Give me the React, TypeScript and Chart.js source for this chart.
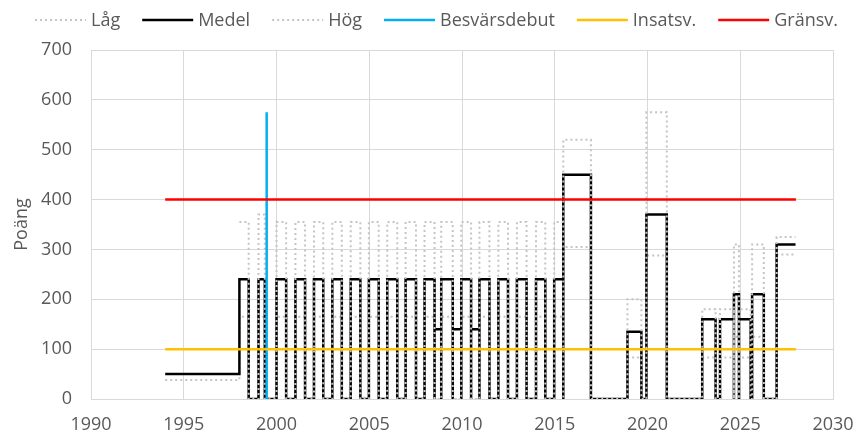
import React, { useEffect, useRef } from "react";
import { Chart, registerables } from "chart.js";

Chart.register(...registerables);

// ---- data ----
const baseStart = 1994;
const baseMedel = 50;
const baseLag = 38;

const segStart = [1998.0, 1999.03, 2000.0, 2001.02, 2002.02, 2003.01, 2004.0, 2004.98, 2005.97, 2006.96, 2007.98, 2008.52, 2008.88, 2009.5, 2009.96, 2010.49, 2010.94, 2011.96, 2012.96, 2013.99, 2014.97, 2015.46, 2018.92, 2019.94, 2022.95, 2023.91, 2024.66, 2024.93, 2025.64, 2026.96];
const segEnd = [1998.5, 1999.37, 2000.52, 2001.54, 2002.52, 2003.52, 2004.52, 2005.51, 2006.51, 2007.52, 2008.52, 2008.88, 2009.5, 2009.96, 2010.49, 2010.94, 2011.48, 2012.48, 2013.48, 2014.49, 2015.46, 2016.95, 2019.67, 2021.04, 2023.67, 2024.66, 2024.93, 2025.56, 2026.27, 2027.98];
const medelVals = [240, 240, 240, 240, 240, 240, 240, 240, 240, 240, 240, 140, 240, 140, 240, 140, 240, 240, 240, 240, 240, 450, 135, 370, 160, 160, 210, 160, 210, 310];
const lagVals: (number | null)[] = [165, 165, 165, 165, 165, 165, 165, 165, 165, 165, 165, null, 165, null, 165, null, 165, 165, 165, 165, 165, 305, 83, 288, 83, 83, 125, 83, 125, 290];
const hogVals: (number | null)[] = [355, 370, 355, 355, 355, 355, 355, 355, 355, 355, 355, null, 355, null, 355, null, 355, 355, 355, 355, 355, 520, 200, 575, 180, 180, 310, 180, 310, 325];

const debutYear = 1999.47;
const debutTop = 575;
const refStart = 1994;
const refEnd = 2028;
const insatsValue = 100;
const gransValue = 400;

const xTicksMin = 1990;
const xTicksMax = 2030;
const yMax = 700;

const TEXT = "#595959";
const GRID = "#D9D9D9";
const FONT = '"Open Sans", "Noto Sans", sans-serif';

type Pt = { x: number; y: number };

function buildSteps(base: number | null, vals: (number | null)[]): Pt[] {
  const pts: Pt[] = [];
  if (base !== null) pts.push({ x: baseStart, y: base });
  let lastIdx = -1;
  vals.forEach((v, i) => {
    if (v !== null) lastIdx = i;
  });
  vals.forEach((v, i) => {
    if (v === null) return;
    pts.push({ x: segStart[i], y: v });
    pts.push({ x: segEnd[i], y: i === lastIdx ? v : 0 });
  });
  return pts;
}

const legendPlugin = {
  id: "customLegend",
  afterDraw(chart: any) {
    const ctx = chart.ctx as CanvasRenderingContext2D;
    const ds = chart.data.datasets as any[];
    ctx.save();
    ctx.font = `18px ${FONT}`;
    const sample = 51;
    const gapText = 5;
    const gapItem = 22;
    const widths = ds.map((d) => ctx.measureText(d.label).width);
    const total = widths.reduce((a, w) => a + sample + gapText + w, 0) + gapItem * (ds.length - 1);
    let x = 436.5 - total / 2;
    const y = 20;
    ds.forEach((d, i) => {
      ctx.beginPath();
      ctx.setLineDash(d.borderDash || []);
      ctx.strokeStyle = d.borderColor;
      ctx.lineWidth = d.borderWidth;
      ctx.moveTo(x, y);
      ctx.lineTo(x + sample, y);
      ctx.stroke();
      ctx.setLineDash([]);
      ctx.fillStyle = TEXT;
      ctx.textBaseline = "middle";
      ctx.textAlign = "left";
      ctx.fillText(d.label, x + sample + gapText, y + 1);
      x += sample + gapText + widths[i] + gapItem;
    });
    ctx.restore();
  },
};

export default function App() {
  const ref = useRef<HTMLCanvasElement | null>(null);
  useEffect(() => {
    if (!ref.current) return;
    Chart.defaults.font.family = FONT;
    const dotted = { borderColor: "#C4C4C4", borderWidth: 2, borderDash: [2, 3] };
    const chart = new Chart(ref.current, {
      type: "line",
      data: {
        datasets: [
          { label: "Låg", data: buildSteps(baseLag, lagVals), stepped: "before", ...dotted, order: 5 },
          { label: "Medel", data: buildSteps(baseMedel, medelVals), stepped: "before", borderColor: "#000000", borderWidth: 2.5, order: 4 },
          { label: "Hög", data: buildSteps(null, hogVals), stepped: "before", ...dotted, order: 3 },
          { label: "Besvärsdebut", data: [{ x: debutYear, y: 0 }, { x: debutYear, y: debutTop }], borderColor: "#00B0F0", borderWidth: 2.5, order: 2 },
          { label: "Insatsv.", data: [{ x: refStart, y: insatsValue }, { x: refEnd, y: insatsValue }], borderColor: "#FFC000", borderWidth: 2.5, order: 1 },
          { label: "Gränsv.", data: [{ x: refStart, y: gransValue }, { x: refEnd, y: gransValue }], borderColor: "#FF0000", borderWidth: 2.5, order: 0 },
        ] as any,
      },
      options: {
        animation: false,
        responsive: false,
        layout: { padding: { top: 50, right: 21, bottom: 0, left: 0 } },
        elements: { point: { radius: 0, hoverRadius: 0 }, line: { tension: 0 } },
        plugins: { legend: { display: false }, tooltip: { enabled: false } },
        scales: {
          x: {
            type: "linear",
            min: xTicksMin,
            max: xTicksMax,
            ticks: { stepSize: 5, color: TEXT, font: { size: 18 }, padding: 15, callback: (v: any) => String(v) },
            grid: { color: GRID, drawTicks: false },
            border: { color: GRID },
            afterFit: (s: any) => {
              s.height = 40;
              s.paddingLeft = 0;
              s.paddingRight = 0;
            },
          },
          y: {
            min: 0,
            max: yMax,
            ticks: { stepSize: 100, color: TEXT, font: { size: 18 }, padding: 19 },
            grid: { color: GRID, drawTicks: false },
            border: { color: GRID },
            title: { display: true, text: "Poäng", color: TEXT, font: { size: 18 }, padding: { top: 11, bottom: 0 } },
            afterFit: (s: any) => {
              s.width = 91;
              s.paddingTop = 0;
              s.paddingBottom = 0;
            },
          },
        },
      } as any,
      plugins: [legendPlugin],
    });
    return () => chart.destroy();
  }, []);
  return (
    <div style={{ position: "fixed", left: 0, top: 0, width: 854, height: 439, background: "#fff" }}>
      <canvas ref={ref} width={854} height={439} />
    </div>
  );
}
